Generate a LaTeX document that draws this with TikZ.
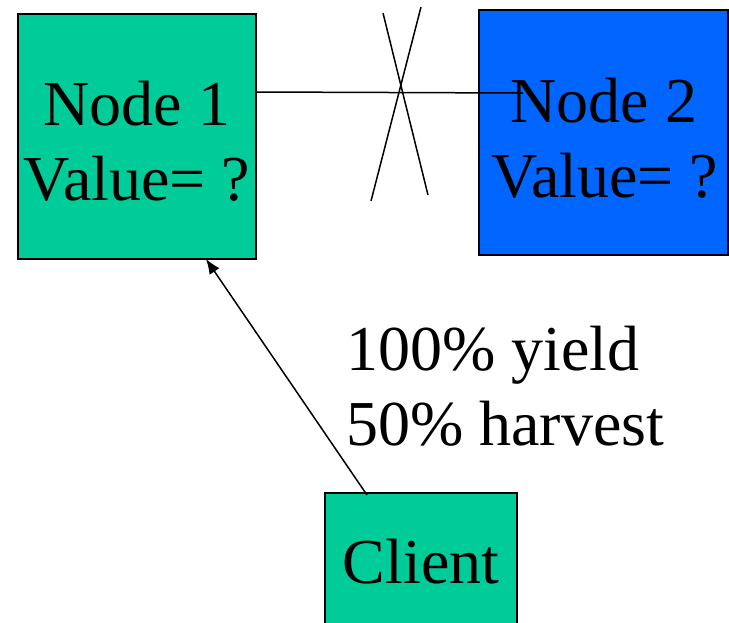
\documentclass[tikz,border=0pt]{standalone}
\usepackage{fontspec}
\setmainfont{Liberation Serif}
\usetikzlibrary{arrows.meta}
\definecolor{nodegreen}{RGB}{0,204,153}
\definecolor{nodeblue}{RGB}{0,102,255}
\begin{document}
\begin{tikzpicture}[x=1pt,y=-1pt,
  box/.style={draw=black, line width=1.5pt, rectangle, inner sep=0pt},
  txt/.style={anchor=base, inner sep=0pt, font=\fontsize{64}{75}\selectfont},
  link/.style={draw=black, line width=1.5pt}]
\useasboundingbox (0,0) rectangle (729,622);
% boxes
\node[box, fill=nodegreen, minimum width=238pt, minimum height=245pt] (n1) at (137,136.5) {};
\node[box, fill=nodeblue, minimum width=249pt, minimum height=245pt] (n2) at (603.5,132.5) {};
\node[box, fill=nodegreen, minimum width=192pt, minimum height=150pt] (cl) at (421,568) {};
% texts
\node[txt] (n1a) at (137,125) {Node 1};
\node[txt] (n1b) at (137,200) {Value= ?};
\node[txt] (n2a) at (604,122) {Node 2};
\node[txt] (n2b) at (605,197) {Value= ?};
\node[txt] (clt) at (421,583) {Client};
\node[txt, anchor=base west] (y1) at (346,370) {100\% yield};
\node[txt, anchor=base west] (y2) at (346,445) {50\% harvest};
% link between nodes
\coordinate (hs) at (n1.east |- 0,92);
\coordinate (he) at (523,93);
\draw[link] (hs) -- (he);
% cross mark
\coordinate (xa1) at (383,13);
\coordinate (xa2) at (428,195);
\coordinate (xb1) at (421,7);
\coordinate (xb2) at (371,201);
\draw[link] (xa1) -- (xa2);
\draw[link] (xb1) -- (xb2);
% arrow from client
\coordinate (cs) at (367,495);
\coordinate (ce) at (206,259);
\draw[link, -{Latex[length=15pt,width=12pt]}] (cs) -- (ce);
\end{tikzpicture}
\end{document}
